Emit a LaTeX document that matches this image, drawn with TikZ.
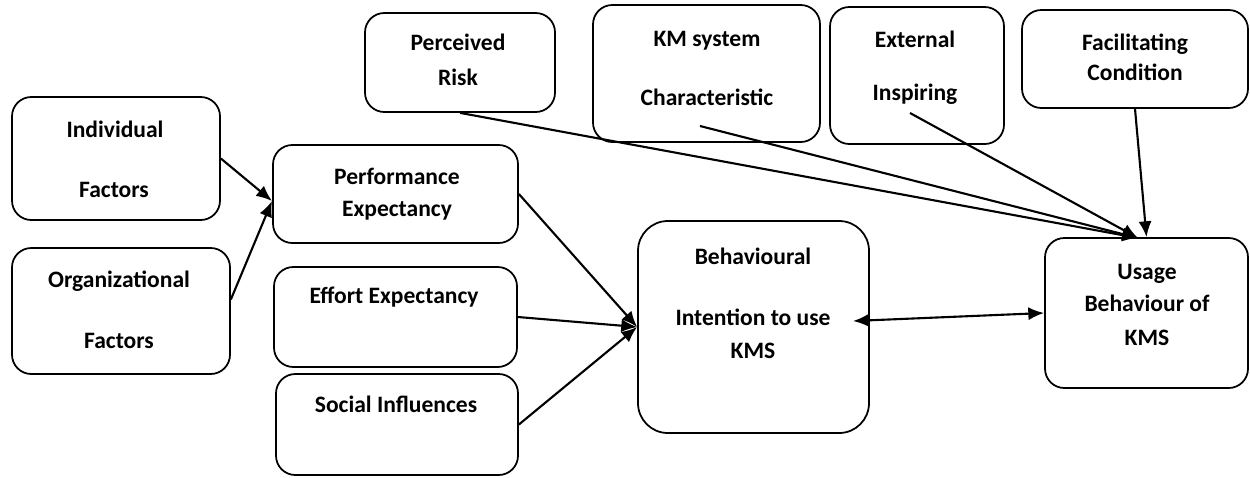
\documentclass[tikz,border=0pt]{standalone}
\usepackage{fontspec}
\setmainfont{Carlito}
\usetikzlibrary{arrows.meta,fit}

\begin{document}
\begin{tikzpicture}[
    x=0.02cm, y=-0.02cm,
    box/.style={draw, line width=1pt, rounded corners=11pt, inner sep=0pt},
    lbl/.style={anchor=base, inner sep=0pt, font=\bfseries\fontsize{13.4}{16}\selectfont},
    arr/.style={-{Latex[length=9pt,width=7.5pt]}, line width=1.2pt},
    ]
    \useasboundingbox (0,0) rectangle (1250,477);
    \node[box, fit={(12,97) (220,220)}] (ind) {};
    \node[box, fit={(12,248) (230,374)}] (org) {};
    \node[box, fit={(273,145) (518,243)}] (pe) {};
    \node[box, fit={(274,267) (517,367)}] (ee) {};
    \node[box, fit={(276,374) (518,475)}] (si) {};
    \node[box, rounded corners=17pt, fit={(638,221) (869,433)}] (bi) {};
    \node[box, fit={(1045,238) (1248,388)}] (ub) {};
    \node[box, fit={(365,13) (555,112)}] (pr) {};
    \node[box, fit={(593,5) (820,142)}] (km) {};
    \node[box, fit={(830,7) (1004,144)}] (ext) {};
    \node[box, fit={(1022,10) (1248,108)}] (fc) {};
    \node[lbl] (ind-a) at (115,137) {Individual};
    \node[lbl] (ind-b) at (114,197) {Factors};
    \node[lbl] (org-a) at (119,287) {Organizational};
    \node[lbl] (org-b) at (119,348) {Factors};
    \node[lbl] (pe-a) at (397,184) {Performance};
    \node[lbl] (pe-b) at (397,216) {Expectancy};
    \node[lbl] (ee-a) at (394,303) {Effort Expectancy};
    \node[lbl] (si-a) at (396,412) {Social Influences};
    \node[lbl] (bi-a) at (753,264) {Behavioural};
    \node[lbl] (bi-b) at (753,325) {Intention to use};
    \node[lbl] (bi-c) at (753,358) {KMS};
    \node[lbl] (ub-a) at (1147,279) {Usage};
    \node[lbl] (ub-b) at (1147,311) {Behaviour of};
    \node[lbl] (ub-c) at (1147,345) {KMS};
    \node[lbl] (pr-a) at (458,50) {Perceived};
    \node[lbl] (pr-b) at (458,85) {Risk};
    \node[lbl] (km-a) at (707,46) {KM system};
    \node[lbl] (km-b) at (707,105) {Characteristic};
    \node[lbl] (ext-a) at (915,47) {External};
    \node[lbl] (ext-b) at (915,100) {Inspiring};
    \node[lbl] (fc-a) at (1135,50) {Facilitating};
    \node[lbl] (fc-b) at (1135,80) {Condition};
    \coordinate (pein) at (272,201);
    \coordinate (ubin) at (1138,238);
    \coordinate (kmout) at (700,126);
    \coordinate (extout) at (910,113);
    \coordinate (bitip) at (853,321);
    \draw[arr] (ind.east) -- (pein);
    \draw[arr] (org.6) -- (pein);
    \draw[arr] (pe.east) -- (bi.west);
    \draw[arr] (ee.east) -- (bi.west);
    \draw[arr] (si.east) -- (bi.west);
    \draw[arr] (pr.south) -- (ubin);
    \draw[arr] (kmout) -- (ubin);
    \draw[arr] (extout) -- (ubin);
    \draw[arr] (fc.south) -- (ub.north);
    \draw[arr, {Latex[length=9pt,width=7.5pt]}-{Latex[length=9pt,width=7.5pt]}] (bitip) -- (ub.west);
\end{tikzpicture}
\end{document}
